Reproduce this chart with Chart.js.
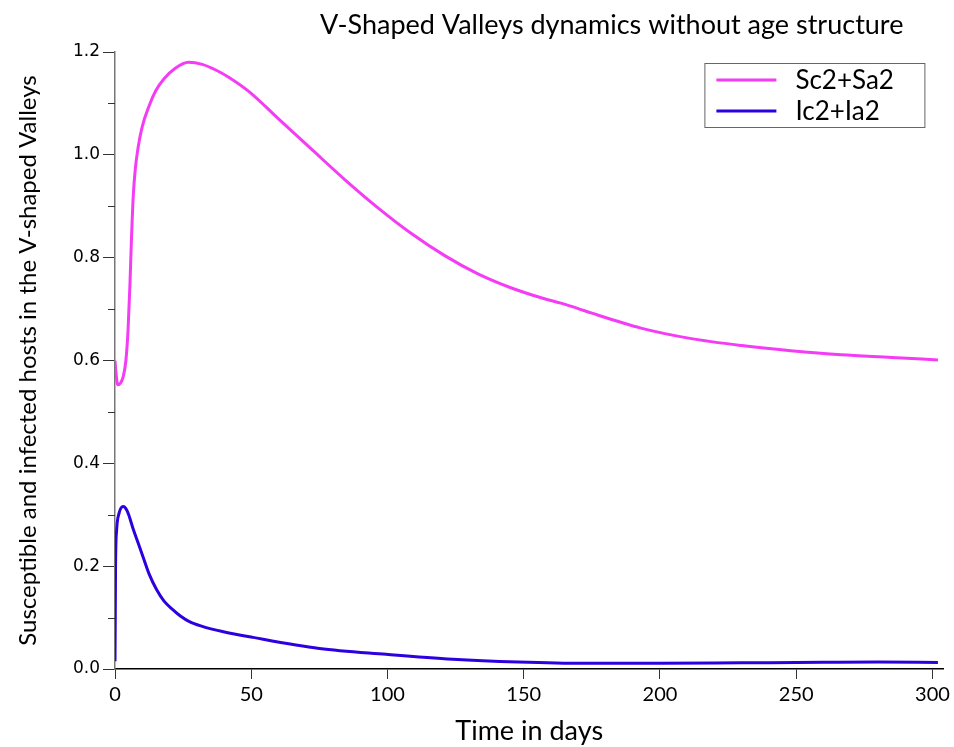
<!DOCTYPE html>
<html>
<head>
<meta charset="utf-8">
<script src="https://cdn.jsdelivr.net/npm/chart.js@4.4.1/dist/chart.umd.min.js"></script>
<style>
  html, body { margin: 0; padding: 0; background: #ffffff; }
  #wrap { width: 954px; height: 747px; position: relative; }
</style>
</head>
<body>
<div id="wrap"><canvas id="c" width="954" height="747"></canvas></div>
<script>
// ---- data ----
const chartTitle = "V-Shaped Valleys dynamics without age structure";
const xTitle = "Time in days";
const yTitle = "Susceptible and infected hosts in the V-shaped Valleys";
const seriesNames = ["Sc2+Sa2", "Ic2+Ia2"];

const sTime = [0, 0.3, 1.0, 2, 3, 4, 4.8, 5.5, 6, 6.7, 7.5, 8.5, 10, 12.5, 15, 18, 22, 27, 32, 37, 42, 49.4, 60.4, 72.5, 84.5, 96.5, 108.5, 121, 133, 145, 157, 164, 170, 175, 193, 211, 230, 248, 266.5, 285, 302];
const sValues = [0.600, 0.580, 0.553, 0.556, 0.568, 0.600, 0.660, 0.750, 0.830, 0.920, 0.975, 1.015, 1.055, 1.095, 1.125, 1.148, 1.168, 1.180, 1.176, 1.165, 1.150, 1.122, 1.068, 1.009, 0.951, 0.897, 0.848, 0.804, 0.769, 0.742, 0.721, 0.711, 0.701, 0.692, 0.663, 0.643, 0.629, 0.619, 0.611, 0.606, 0.601];

const iTime = [0, 0.1, 0.2, 0.6, 1.5, 3, 4.5, 6.7, 8.5, 10.3, 12.5, 15.3, 18, 21.3, 24, 27.3, 32, 39.4, 50.6, 75, 99.5, 124, 148, 172, 200, 230, 260, 280, 302];
const iValues = [0.015, 0.100, 0.200, 0.270, 0.303, 0.316, 0.307, 0.272, 0.245, 0.218, 0.185, 0.154, 0.132, 0.115, 0.103, 0.092, 0.083, 0.073, 0.0615, 0.040, 0.0286, 0.019, 0.0136, 0.011, 0.011, 0.012, 0.013, 0.0135, 0.0125];

const xMin = 0, xMax = 304, xStep = 50;
const yMin = 0, yMax = 1.2, yStep = 0.2, yMinorStep = 0.1;

const colors = ["#f53cf5", "#2d00e0"];

function pts(xs, ys) { return xs.map((x, i) => ({ x: x, y: ys[i] })); }

// minor y ticks, chart title, boxed legend
const extras = {
  id: 'extras',
  afterDraw(chart) {
    const ctx = chart.ctx;
    const ys = chart.scales.y;
    const ca = chart.chartArea;
    ctx.save();
    // minor ticks
    ctx.strokeStyle = '#333';
    ctx.lineWidth = 1;
    for (let v = yMin + yMinorStep; v < yMax; v += 2 * yMinorStep) {
      const py = Math.round(ys.getPixelForValue(v)) + 0.5;
      ctx.beginPath();
      ctx.moveTo(ca.left - 7, py);
      ctx.lineTo(ca.left, py);
      ctx.stroke();
    }
    // title
    ctx.fillStyle = '#000';
    ctx.font = '27px Lato, "Open Sans", sans-serif';
    ctx.textAlign = 'right';
    ctx.textBaseline = 'middle';
    ctx.fillText(chartTitle, ca.right - 40, 25);
    // legend box
    const bx = ca.right - 239, by = ca.top + 11, bw = 220, bh = 64;
    ctx.fillStyle = '#fff';
    ctx.fillRect(bx, by, bw, bh);
    ctx.strokeStyle = '#666';
    ctx.lineWidth = 1;
    ctx.strokeRect(bx + 0.5, by + 0.5, bw, bh);
    ctx.font = '26px Lato, "Open Sans", sans-serif';
    ctx.textAlign = 'left';
    chart.data.datasets.forEach((ds, i) => {
      const ly = by + 17 + i * 31;
      ctx.strokeStyle = ds.borderColor;
      ctx.lineWidth = 3;
      ctx.beginPath();
      ctx.moveTo(bx + 12, ly);
      ctx.lineTo(bx + 72, ly);
      ctx.stroke();
      ctx.fillStyle = '#000';
      ctx.fillText(ds.label, bx + 91, ly + 1);
    });
    ctx.restore();
  }
};

new Chart(document.getElementById('c'), {
  type: 'line',
  data: {
    datasets: [
      { label: seriesNames[0], data: pts(sTime, sValues), borderColor: colors[0], backgroundColor: colors[0],
        borderWidth: 3, pointRadius: 0, cubicInterpolationMode: 'monotone', fill: false },
      { label: seriesNames[1], data: pts(iTime, iValues), borderColor: colors[1], backgroundColor: colors[1],
        borderWidth: 3, pointRadius: 0, cubicInterpolationMode: 'monotone', fill: false }
    ]
  },
  options: {
    responsive: false,
    animation: false,
    events: [],
    layout: { padding: { top: 52, right: 8, left: 0, bottom: 0 } },
    plugins: {
      legend: { display: false },
      title: { display: false },
      tooltip: { enabled: false }
    },
    scales: {
      x: {
        type: 'linear',
        min: xMin, max: xMax,
        afterFit(scale) { scale.height = 78; },
        border: { display: true, color: '#000', width: 1.5 },
        grid: { drawOnChartArea: false, drawTicks: true, tickLength: 10, color: '#333' },
        ticks: { stepSize: xStep, includeBounds: false, color: '#000', padding: 4,
                 font: { family: 'Lato, "Open Sans", sans-serif', size: 20 } },
        title: { display: true, text: xTitle, color: '#000', padding: { top: 2, bottom: 0 },
                 font: { family: 'Lato, "Open Sans", sans-serif', size: 27 } }
      },
      y: {
        type: 'linear',
        min: yMin, max: yMax,
        afterFit(scale) { scale.width = 115; },
        border: { display: true, color: '#777', width: 1.5 },
        grid: { drawOnChartArea: false, drawTicks: true, tickLength: 12, color: '#333' },
        ticks: { stepSize: yStep, includeBounds: false, color: '#000', padding: 3,
                 callback: (v) => Number(v).toFixed(1),
                 font: { family: '"DejaVu Sans", sans-serif', size: 17 } },
        title: { display: true, text: yTitle, color: '#000', padding: { top: 14, bottom: 0 },
                 font: { family: 'Lato, "Open Sans", sans-serif', size: 24 } }
      }
    }
  },
  plugins: [extras]
});
</script>
</body>
</html>
